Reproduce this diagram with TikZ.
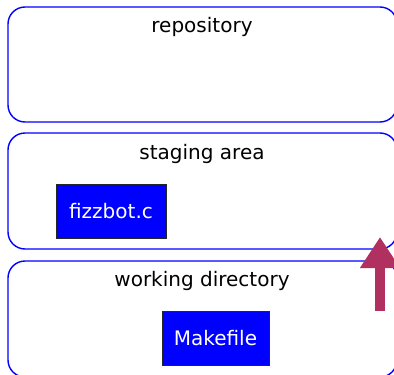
\documentclass[tikz,border=0pt]{standalone}
\usepackage{fontspec}
\setmainfont{DejaVu Sans}
\usetikzlibrary{arrows.meta}
\definecolor{arrowred}{HTML}{B03060}
\begin{document}
\begin{tikzpicture}[x=1pt,y=-1pt,
  area/.style={draw=blue, line width=1.4pt, rounded corners=17pt, inner sep=0pt, outer sep=0pt, minimum width=389pt},
  label/.style={anchor=base, text=black, font=\fontsize{20}{24}\selectfont, inner sep=0pt},
  filebox/.style={draw=black!85, line width=1pt, fill=blue, text=white, inner sep=0pt, minimum width=110pt, minimum height=54pt, font=\fontsize{20}{24}\selectfont},
  bigarrow/.style={draw=arrowred, line width=10pt, -{Triangle[length=31pt,width=38pt]}}]
\clip (0,0) rectangle (394,375);
\node[area, minimum height=115pt] (repo) at (202.5,64.5) {};
\node[area, minimum height=116pt] (stage) at (202.5,191) {};
\node[area, minimum height=116pt] (work) at (202.5,319) {};
\node[label] (repolabel) at (202,32) {repository};
\node[label] (stagelabel) at (202,159) {staging area};
\node[label] (worklabel) at (202,286) {working directory};
\node[filebox] (fizz) at (111,211) {fizzbot.c};
\node[filebox, minimum width=107pt] (make) at (215.5,338) {Makefile};
\coordinate (astart) at (380,311);
\coordinate (aend) at (380,237);
\draw[bigarrow] (astart) -- (aend);
\end{tikzpicture}
\end{document}
